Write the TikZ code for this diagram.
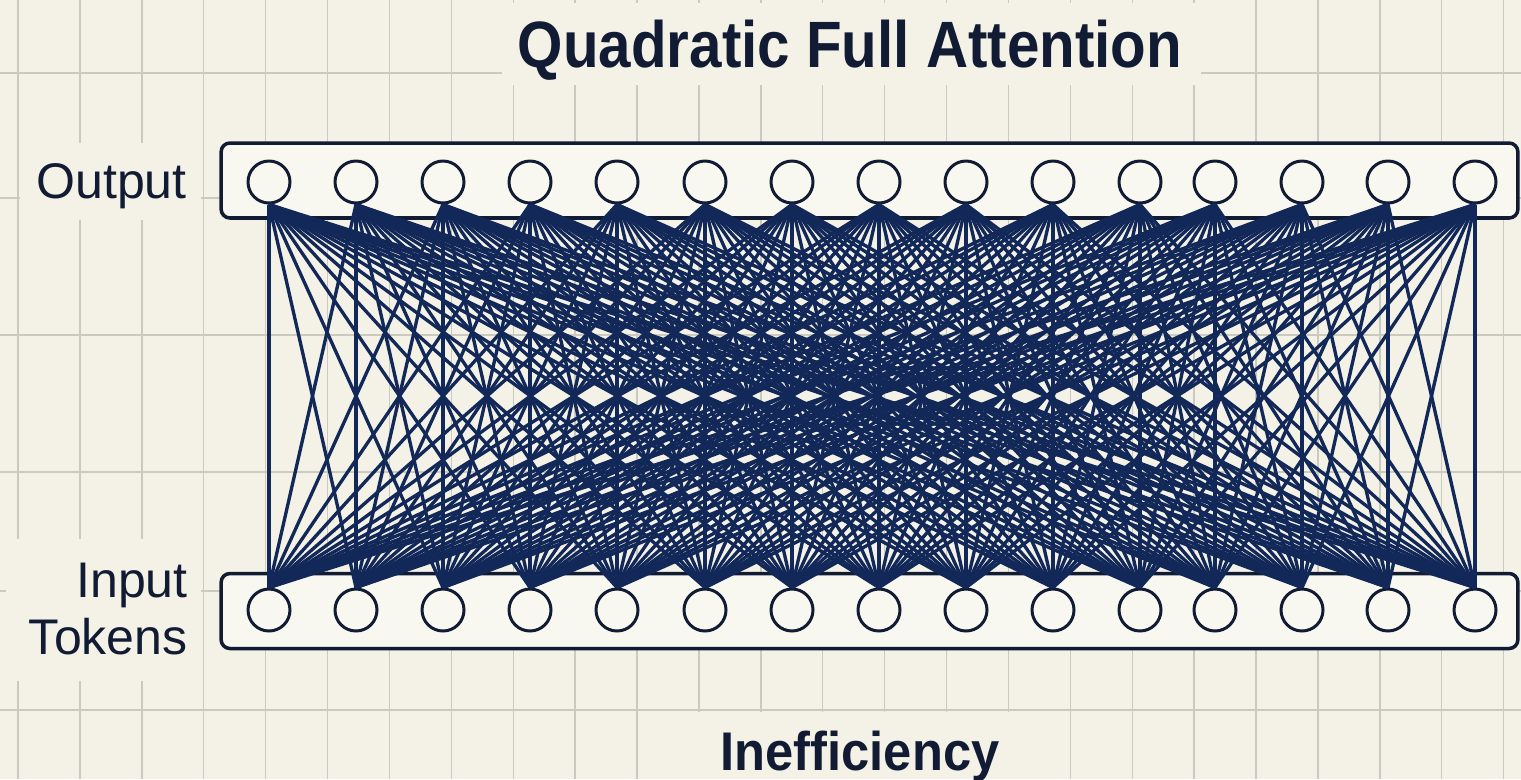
\documentclass[tikz,border=0pt]{standalone}
\usepackage{fontspec}
\usepackage{graphicx}
\setmainfont{Liberation Sans}
\definecolor{paper}{HTML}{F4F2E6}
\definecolor{boxfill}{HTML}{F8F7F0}
\definecolor{gridgray}{HTML}{CBCAC1}
\definecolor{ink}{HTML}{111B33}
\definecolor{meshblue}{HTML}{122859}
\begin{document}
\begin{tikzpicture}[x=0.02cm,y=-0.02cm,
  gridline/.style={draw=gridgray,line width=.8pt},
  tokbox/.style={draw=ink,fill=boxfill,line width=2pt,rounded corners=5pt,
    minimum width=25.94cm,minimum height=1.5cm,inner sep=0pt},
  tok/.style={circle,draw=ink,fill=boxfill,line width=1.7pt,minimum size=0.84cm,inner sep=0pt},
  link/.style={draw=meshblue,line width=1.9pt},
  lbl/.style={text=ink,inner sep=0pt,font=\fontsize{28.5}{32.3}\selectfont},
  ttl/.style={text=ink,inner sep=0pt,font=\bfseries}]
\useasboundingbox (0,0) rectangle (1521,779);
\fill[paper] (0,0) rectangle (1521,779);
% grid paper
\foreach \k in {0,...,24}
  \draw[gridline] ({18+61.9*\k},0) -- ({18+61.9*\k},779);
\foreach \yy in {73,198,335,472,591,710}
  \draw[gridline] (0,\yy) -- (1521,\yy);
% patches behind the texts
\fill[paper] (502,3) rectangle (1201,85);
\fill[paper] (20,143) rectangle (201,220);
\fill[paper] (6,539) rectangle (201,681);
\fill[paper] (648,712) rectangle (1070,779);
% token rows
\node[tokbox] (outbox) at (869.5,180.5) {};
\node[tokbox] (inbox) at (869.5,611) {};
\foreach \xx [count=\n] in {269,356,443,530,617,705,792,879,966,1053,1140,1215,1302,1388,1475} {
  \node[tok] (o\n) at (\xx,182) {};
  \node[tok] (i\n) at (\xx,610) {};
}
% every output attends to every input
\foreach \a in {1,...,15}
  \foreach \b in {1,...,15}
    \draw[link] (o\a.south) -- (i\b.north);
% labels
\node[lbl,anchor=base east] (outlbl) at (187,198) {Output};
\node[lbl,anchor=east,align=right] (inlbl) at (188,609) {Input\\Tokens};
\node[ttl,anchor=base,font=\bfseries\fontsize{37.3}{44}\selectfont] (title) at (850,67)
  {\scalebox{0.89}[1]{Quadratic Full Attention}};
\node[ttl,anchor=base,font=\bfseries\fontsize{31}{37}\selectfont] (foot) at (860,770)
  {\scalebox{0.93}[1]{Inefficiency}};
\end{tikzpicture}
\end{document}
